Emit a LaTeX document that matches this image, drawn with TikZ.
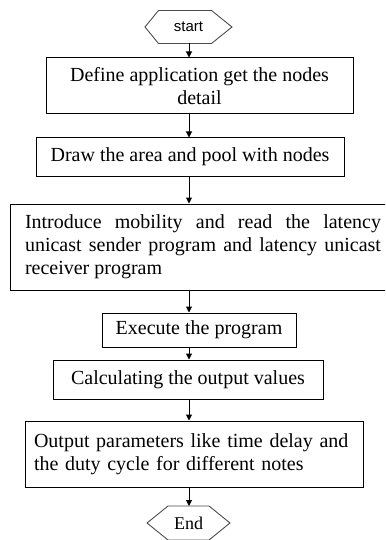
\documentclass[tikz,border=0pt]{standalone}
\usepackage{fontspec}
\setmainfont{Liberation Serif}
\newfontfamily\hexfont{Liberation Sans}
\usetikzlibrary{arrows.meta}
\tikzset{
  box/.style={draw, line width=1pt, inner sep=0pt, align=center, font=\fontsize{20}{23}\selectfont},
  arr/.style={line width=1pt, -{Triangle[length=6pt,width=6pt]}},
  hexline/.style={draw=black!70, line width=0.9pt}
}
\begin{document}
\begin{tikzpicture}[x=1pt,y=-1pt]
\clip (0,0) rectangle (385,540);
\fill[white] (0,0) rectangle (385,540);
% start hexagon
\node[font=\hexfont\fontsize{15}{17}\selectfont] (start) at (188.5,27) {start};
\draw[hexline] ([shift={(-43.5pt,0)}]start.center) -- ([shift={(-30pt,16.5pt)}]start.center) -- ([shift={(23pt,16.5pt)}]start.center) -- ([shift={(43.5pt,0)}]start.center) -- ([shift={(23pt,-16.5pt)}]start.center) -- ([shift={(-30pt,-16.5pt)}]start.center) -- cycle;
\coordinate (sb) at (189,43.5);
% boxes
\node[box, minimum width=307pt, minimum height=56pt] (b1) at (199.5,86) {Define application get the nodes\\detail};
\node[box, minimum width=308pt, minimum height=38pt] (b2) at (190,157) {Draw the area and pool with nodes};
\node[box, minimum height=86pt, text width=356pt, inner xsep=15pt, align=justify] (b3) at (203,247) {Introduce mobility and read the latency\linebreak unicast sender program and latency unicast\linebreak receiver program};
\node[box, minimum width=194pt, minimum height=34pt] (b4) at (199,330) {Execute the program};
\node[box, minimum width=270pt, minimum height=39pt] (b5) at (188,379.5) {Calculating the output values};
\node[box, minimum height=66pt, text width=320pt, inner xsep=9pt, align=left] (b6) at (194,454) {Output parameters like time delay and\\the duty cycle for different notes};
% end hexagon
\node[font=\fontsize{18}{20}\selectfont] (end) at (188.5,523) {End};
\draw[hexline] ([shift={(-41.5pt,0)}]end.center) -- ([shift={(-20.5pt,17pt)}]end.center) -- ([shift={(20.5pt,17pt)}]end.center) -- ([shift={(41.5pt,0)}]end.center) -- ([shift={(20.5pt,-17pt)}]end.center) -- ([shift={(-20.5pt,-17pt)}]end.center) -- cycle;
% arrows
\draw[arr] (sb) -- (sb |- b1.north);
\draw[arr] (sb |- b1.south) -- (sb |- b2.north);
\draw[arr] (sb |- b2.south) -- (sb |- b3.north);
\draw[arr] (sb |- b3.south) -- (sb |- b4.north);
\draw[arr] (sb |- b4.south) -- (sb |- b5.north);
\draw[arr] (sb |- b5.south) -- (sb |- b6.north);
\draw[arr] (sb |- b6.south) -- (189,506);
\end{tikzpicture}
\end{document}
